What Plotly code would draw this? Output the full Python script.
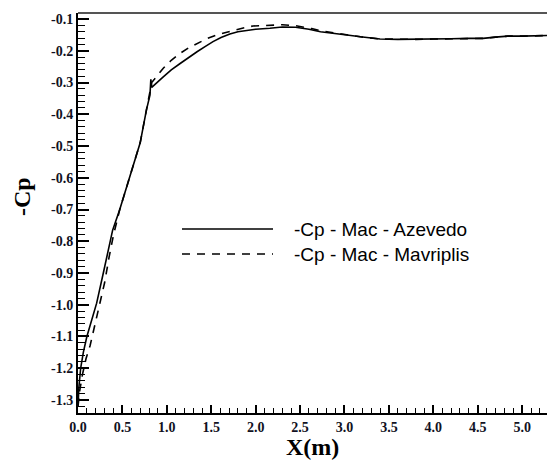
import plotly.graph_objects as go

# ---- data ----
series_names = ["-Cp - Mac - Azevedo", "-Cp - Mac - Mavriplis"]

x_azevedo = [0.0, 0.01, 0.03, 0.06, 0.10, 0.15, 0.21, 0.285, 0.39, 0.47, 0.55, 0.63,
             0.70, 0.77, 0.81, 0.82, 0.83, 0.96, 1.05, 1.15, 1.25, 1.34, 1.43, 1.52,
             1.61, 1.71, 1.80, 1.90, 2.00, 2.16, 2.30, 2.45, 2.60, 2.73, 2.91, 3.05,
             3.18, 3.40, 3.60, 3.81, 4.00, 4.20, 4.40, 4.56, 4.70, 4.84, 5.00, 5.28]
cp_azevedo = [-1.32, -1.26, -1.20, -1.15, -1.10, -1.05, -0.995, -0.90, -0.765, -0.70, -0.628, -0.56,
              -0.49, -0.387, -0.34, -0.29, -0.315, -0.282, -0.26, -0.24, -0.22, -0.203, -0.187, -0.171,
              -0.158, -0.147, -0.140, -0.135, -0.132, -0.129, -0.125, -0.126, -0.132, -0.140, -0.145, -0.151,
              -0.156, -0.163, -0.164, -0.164, -0.163, -0.162, -0.161, -0.161, -0.157, -0.154, -0.154, -0.152]

x_mavriplis = [0.0, 0.02, 0.05, 0.09, 0.135, 0.19, 0.25, 0.30, 0.35, 0.40, 0.47, 0.55, 0.63,
               0.70, 0.77, 0.81, 0.83, 0.86, 0.96, 1.05, 1.15, 1.25, 1.34, 1.45, 1.56,
               1.65, 1.75, 1.86, 1.97, 2.10, 2.30, 2.45, 2.53, 2.63, 2.73, 2.91, 3.05,
               3.18, 3.40, 3.60, 3.81, 4.00, 4.20, 4.40, 4.56, 4.70, 4.84, 5.00, 5.28]
cp_mavriplis = [-1.32, -1.27, -1.22, -1.17, -1.13, -1.064, -1.00, -0.93, -0.85, -0.78, -0.70, -0.628, -0.56,
                -0.49, -0.387, -0.334, -0.30, -0.29, -0.255, -0.23, -0.208, -0.19, -0.177, -0.162, -0.150,
                -0.143, -0.137, -0.128, -0.122, -0.120, -0.118, -0.121, -0.124, -0.130, -0.137, -0.145, -0.151,
                -0.156, -0.163, -0.164, -0.164, -0.163, -0.162, -0.161, -0.161, -0.157, -0.154, -0.154, -0.152]

x_tick_vals = [0.0, 0.5, 1.0, 1.5, 2.0, 2.5, 3.0, 3.5, 4.0, 4.5, 5.0]
x_tick_text = ["0.0", "0.5", "1.0", "1.5", "2.0", "2.5", "3.0", "3.5", "4.0", "4.5", "5.0"]
y_tick_vals = [-0.1, -0.2, -0.3, -0.4, -0.5, -0.6, -0.7, -0.8, -0.9, -1.0, -1.1, -1.2, -1.3]
y_tick_text = ["-0.1", "-0.2", "-0.3", "-0.4", "-0.5", "-0.6", "-0.7", "-0.8", "-0.9",
               "-1.0", "-1.1", "-1.2", "-1.3"]
x_title = "X(m)"
y_title = "-Cp"

# ---- figure ----
W, H = 547, 460
L, R, T, B = 78, 0, 13, 47
plot_w = W - L - R
plot_h = H - T - B

fig = go.Figure()
fig.add_trace(go.Scatter(x=x_azevedo, y=cp_azevedo, mode="lines", name=series_names[0],
                         line=dict(color="black", width=1.6), showlegend=False))
fig.add_trace(go.Scatter(x=x_mavriplis, y=cp_mavriplis, mode="lines", name=series_names[1],
                         line=dict(color="black", width=1.6, dash="8px,7px"), showlegend=False))

tick_font = dict(family="Liberation Serif", size=14, color="#111122", weight="bold")

fig.update_xaxes(range=[0, 5.28], tickmode="array", tickvals=x_tick_vals, ticktext=x_tick_text,
                 ticks="inside", ticklen=8, tickwidth=1.5, tickcolor="black",
                 minor=dict(ticks="inside", dtick=0.1, tick0=0, ticklen=5, tickwidth=1.2, tickcolor="black"),
                 showline=True, linecolor="black", linewidth=2, showgrid=False, zeroline=False,
                 tickfont=tick_font)
fig.update_yaxes(range=[-1.341, -0.081], tickmode="array", tickvals=y_tick_vals, ticktext=y_tick_text,
                 ticks="inside", ticklen=11, tickwidth=1.5, tickcolor="black",
                 minor=dict(ticks="inside", dtick=0.02, tick0=0, ticklen=7, tickwidth=1.2, tickcolor="black"),
                 showline=True, linecolor="black", linewidth=2, showgrid=False, zeroline=False,
                 tickfont=tick_font)

shapes = [dict(type="line", xref="paper", yref="paper", x0=0, x1=1, y0=1, y1=1,
               line=dict(color="#555555", width=2))]

# manual legend (sample lines in paper coordinates)
def px_to_paper_x(px):
    return (px - L) / plot_w

def px_to_paper_y(py):
    return 1 - (py - T) / plot_h

leg_x0, leg_x1 = px_to_paper_x(182), px_to_paper_x(273)
leg_rows = [229, 254]
dashes = ["solid", "8px,7px"]
annotations = []
for name, row, dsh in zip(series_names, leg_rows, dashes):
    shapes.append(dict(type="line", xref="paper", yref="paper", x0=leg_x0, x1=leg_x1,
                       y0=px_to_paper_y(row), y1=px_to_paper_y(row),
                       line=dict(color="black", width=1.6, dash=dsh)))
    annotations.append(dict(text=name, xref="paper", yref="paper", x=px_to_paper_x(292),
                            y=px_to_paper_y(row), xanchor="left", yanchor="middle", showarrow=False,
                            font=dict(family="Liberation Sans", size=19, color="black")))

annotations.append(dict(text=x_title, xref="paper", yref="paper", x=px_to_paper_x(312),
                        y=px_to_paper_y(447), xanchor="center", yanchor="middle", showarrow=False,
                        font=dict(family="Liberation Serif", size=24, color="black", weight="bold")))
annotations.append(dict(text=y_title, xref="paper", yref="paper", x=px_to_paper_x(22),
                        y=px_to_paper_y(197), xanchor="center", yanchor="middle", showarrow=False,
                        textangle=-90,
                        font=dict(family="Liberation Serif", size=24, color="black", weight="bold")))

fig.update_layout(width=W, height=H, margin=dict(l=L, r=R, t=T, b=B, pad=0),
                  paper_bgcolor="white", plot_bgcolor="white",
                  shapes=shapes, annotations=annotations, showlegend=False)

fig.write_html("out.html", config={"displayModeBar": False},
               post_script="document.body.style.margin='0';document.body.style.overflow='hidden';")
